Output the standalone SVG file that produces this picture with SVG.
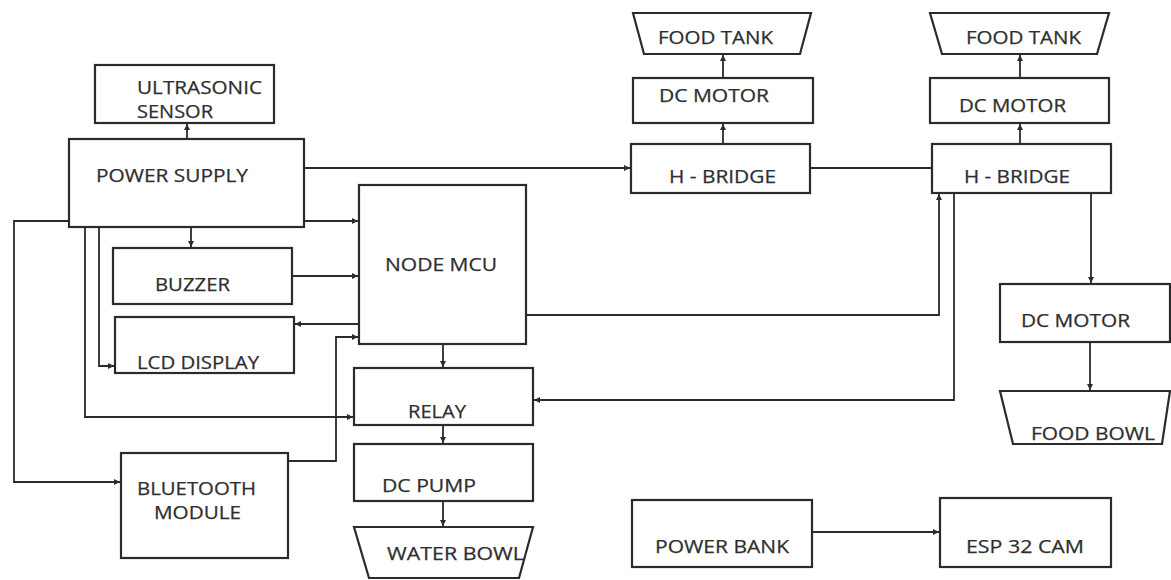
<svg xmlns="http://www.w3.org/2000/svg" width="1171" height="580" viewBox="0 0 1171 580">
<style>
.box{fill:#fff;stroke:#2b2b2b;stroke-width:2.2}
.t{font-family:"Open Sans","Liberation Sans",sans-serif;font-size:18px;fill:#2f2f2f;stroke:#2f2f2f;stroke-width:0.25}
.c{fill:none;stroke:#2b2b2b;stroke-width:1.8}
</style>
<defs>
<marker id="ah" markerUnits="userSpaceOnUse" markerWidth="7" markerHeight="7" refX="6" refY="3.5" orient="auto">
<path d="M0,0.5 L6,3.5 L0,6.5 z" fill="#2b2b2b"/>
</marker>
</defs>
<rect width="1171" height="580" fill="#fff"/>
<g id="connectors">
<path class="c" d="M187,139 V124" marker-end="url(#ah)"/>
<path class="c" d="M191,227 V247" marker-end="url(#ah)"/>
<path class="c" d="M304,221 H358" marker-end="url(#ah)"/>
<path class="c" d="M304,168 H630" marker-end="url(#ah)"/>
<path class="c" d="M810,168 H932"/>
<path class="c" d="M69,221 H14 V482 H120" marker-end="url(#ah)"/>
<path class="c" d="M85,227 V417 H353" marker-end="url(#ah)"/>
<path class="c" d="M99,227 V366 H114" marker-end="url(#ah)"/>
<path class="c" d="M292,276 H358" marker-end="url(#ah)"/>
<path class="c" d="M359,324 H295" marker-end="url(#ah)"/>
<path class="c" d="M288,461 H336 V337 H358" marker-end="url(#ah)"/>
<path class="c" d="M443,344 V367" marker-end="url(#ah)"/>
<path class="c" d="M443,425 V443" marker-end="url(#ah)"/>
<path class="c" d="M443,501 V526" marker-end="url(#ah)"/>
<path class="c" d="M526,315 H939 V194" marker-end="url(#ah)"/>
<path class="c" d="M954,193 V400 H534" marker-end="url(#ah)"/>
<path class="c" d="M1091,193 V283" marker-end="url(#ah)"/>
<path class="c" d="M1090,342 V390" marker-end="url(#ah)"/>
<path class="c" d="M723,78 V55" marker-end="url(#ah)"/>
<path class="c" d="M723,144 V124" marker-end="url(#ah)"/>
<path class="c" d="M1020,78 V55" marker-end="url(#ah)"/>
<path class="c" d="M1020,144 V124" marker-end="url(#ah)"/>
<path class="c" d="M812,532 H939" marker-end="url(#ah)"/>
</g>
<g id="ultrasonic">
<rect class="box" x="95" y="65" width="179" height="58"/>
<text class="t" x="137" y="94" textLength="125" lengthAdjust="spacingAndGlyphs">ULTRASONIC</text>
<text class="t" x="137" y="118" textLength="76" lengthAdjust="spacingAndGlyphs">SENSOR</text>
</g>
<g id="power-supply">
<rect class="box" x="69" y="139" width="235" height="88"/>
<text class="t" x="96" y="182" textLength="152" lengthAdjust="spacingAndGlyphs">POWER SUPPLY</text>
</g>
<g id="buzzer">
<rect class="box" x="113" y="248" width="179" height="56"/>
<text class="t" x="155" y="291" textLength="75" lengthAdjust="spacingAndGlyphs">BUZZER</text>
</g>
<g id="lcd">
<rect class="box" x="115" y="317" width="179" height="56"/>
<text class="t" x="137" y="369" textLength="122" lengthAdjust="spacingAndGlyphs">LCD DISPLAY</text>
</g>
<g id="node-mcu">
<rect class="box" x="359" y="185" width="167" height="159"/>
<text class="t" x="385" y="271" textLength="112" lengthAdjust="spacingAndGlyphs">NODE MCU</text>
</g>
<g id="relay">
<rect class="box" x="354" y="368" width="179" height="57"/>
<text class="t" x="408" y="418" textLength="58" lengthAdjust="spacingAndGlyphs">RELAY</text>
</g>
<g id="dc-pump">
<rect class="box" x="354" y="444" width="179" height="57"/>
<text class="t" x="382" y="492" textLength="94" lengthAdjust="spacingAndGlyphs">DC PUMP</text>
</g>
<g id="water-bowl">
<polygon class="box" points="354,527 533,527 519,578 369,578"/>
<text class="t" x="387" y="560" textLength="137" lengthAdjust="spacingAndGlyphs">WATER BOWL</text>
</g>
<g id="bluetooth">
<rect class="box" x="121" y="453" width="167" height="105"/>
<text class="t" x="137" y="495" textLength="119" lengthAdjust="spacingAndGlyphs">BLUETOOTH</text>
<text class="t" x="154" y="519" textLength="87" lengthAdjust="spacingAndGlyphs">MODULE</text>
</g>
<g id="food-tank-1">
<polygon class="box" points="633,13 811,13 800,54 644,54"/>
<text class="t" x="658" y="44" textLength="115" lengthAdjust="spacingAndGlyphs">FOOD TANK</text>
</g>
<g id="dc-motor-1">
<rect class="box" x="633" y="78" width="180" height="45"/>
<text class="t" x="659" y="102" textLength="110" lengthAdjust="spacingAndGlyphs">DC MOTOR</text>
</g>
<g id="h-bridge-1">
<rect class="box" x="631" y="144" width="179" height="49"/>
<text class="t" x="669" y="183" textLength="107" lengthAdjust="spacingAndGlyphs">H - BRIDGE</text>
</g>
<g id="food-tank-2">
<polygon class="box" points="930,13 1109,13 1097,54 942,54"/>
<text class="t" x="966" y="44" textLength="115" lengthAdjust="spacingAndGlyphs">FOOD TANK</text>
</g>
<g id="dc-motor-2">
<rect class="box" x="930" y="78" width="179" height="45"/>
<text class="t" x="959" y="112" textLength="107" lengthAdjust="spacingAndGlyphs">DC MOTOR</text>
</g>
<g id="h-bridge-2">
<rect class="box" x="932" y="144" width="179" height="49"/>
<text class="t" x="964" y="183" textLength="106" lengthAdjust="spacingAndGlyphs">H - BRIDGE</text>
</g>
<g id="dc-motor-3">
<rect class="box" x="1000" y="284" width="170" height="58"/>
<text class="t" x="1021" y="327" textLength="109" lengthAdjust="spacingAndGlyphs">DC MOTOR</text>
</g>
<g id="food-bowl">
<polygon class="box" points="1000,391 1170,391 1162,444 1013,444"/>
<text class="t" x="1031" y="440" textLength="124" lengthAdjust="spacingAndGlyphs">FOOD BOWL</text>
</g>
<g id="power-bank">
<rect class="box" x="632" y="500" width="180" height="67"/>
<text class="t" x="655" y="553" textLength="134" lengthAdjust="spacingAndGlyphs">POWER BANK</text>
</g>
<g id="esp32-cam">
<rect class="box" x="940" y="498" width="171" height="69"/>
<text class="t" x="966" y="553" textLength="118" lengthAdjust="spacingAndGlyphs">ESP 32 CAM</text>
</g>
</svg>
